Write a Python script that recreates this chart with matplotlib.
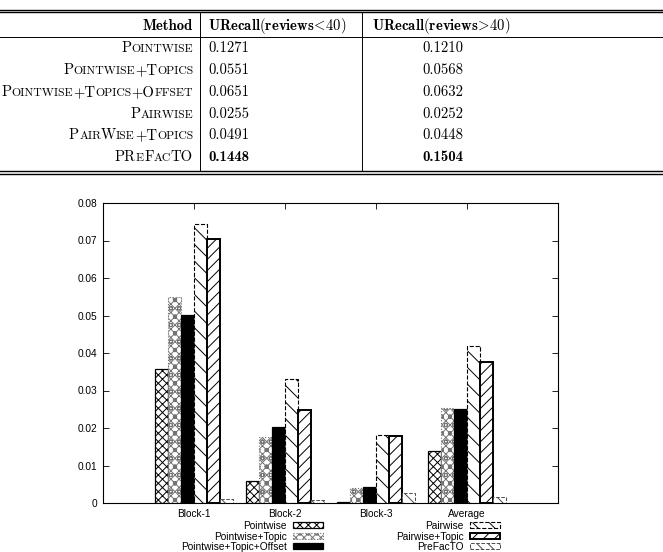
import numpy as np
import matplotlib
matplotlib.use('Agg')
import matplotlib.pyplot as plt

plt.rcParams['font.family'] = ['Liberation Sans', 'DejaVu Sans']
plt.rcParams['mathtext.fontset'] = 'cm'
plt.rcParams['hatch.linewidth'] = 0.7

# table data
methods = ['Pointwise', 'Pointwise+Topics', 'Pointwise+Topics+Offset',
           'Pairwise', 'PairWise+Topics', 'PReFacTO']
recall_lt40 = ['0.1271', '0.0551', '0.0651', '0.0255', '0.0491', '0.1448']
recall_gt40 = ['0.1210', '0.0568', '0.0632', '0.0252', '0.0448', '0.1504']
best_row = 5

# bar chart data
blocks = ['Block-1', 'Block-2', 'Block-3', 'Average']
series = ['Pointwise', 'Pointwise+Topic', 'Pointwise+Topic+Offset',
          'Pairwise', 'Pairwise+Topic', 'PreFacTO']
pointwise = [0.0357, 0.0059, 0.0003, 0.0139]
pointwise_topic = [0.0549, 0.0175, 0.0041, 0.0254]
pointwise_topic_offset = [0.0501, 0.0204, 0.0044, 0.0250]
pairwise = [0.0744, 0.0330, 0.0181, 0.0419]
pairwise_topic = [0.0703, 0.0248, 0.0179, 0.0377]
prefacto = [0.0010, 0.0008, 0.0026, 0.0015]
values = [pointwise, pointwise_topic, pointwise_topic_offset,
          pairwise, pairwise_topic, prefacto]

styles = [
    dict(facecolor='white', edgecolor='black', hatch='xxxx', linestyle='-', linewidth=0.9),
    dict(facecolor='white', edgecolor='0.45', hatch='xxxxoo', linestyle=':', linewidth=0.8),
    dict(facecolor='black', edgecolor='black', hatch=None, linestyle='-', linewidth=0.9),
    dict(facecolor='white', edgecolor='black', hatch='\\\\', linestyle='--', linewidth=0.8),
    dict(facecolor='white', edgecolor='black', hatch='///', linestyle='-', linewidth=1.4),
    dict(facecolor='white', edgecolor='0.3', hatch='\\\\\\', linestyle='--', linewidth=0.7),
]

W, H = 663, 552
fig = plt.figure(figsize=(W / 100, H / 100), dpi=100)

# ---- table drawn in pixel coordinates
tab = fig.add_axes([0, 0, 1, 1])
tab.set_xlim(0, W)
tab.set_ylim(H, 0)
tab.axis('off')

for y in (9.5, 12.0, 171.0, 174.0):
    tab.plot([0, W], [y, y], color='black', lw=1.0)
tab.plot([0, W], [37.3, 37.3], color='black', lw=0.7)
for x in (200, 362):
    tab.plot([x, x], [12, 171], color='black', lw=0.7)

fs = 10.6
renderer = fig.canvas.get_renderer()


def smallcaps(x_right, y, s):
    runs = []
    for ch in s:
        small = ch.islower()
        if runs and runs[-1][1] == small:
            runs[-1][0] += ch
        else:
            runs.append([ch, small])
    texts = []
    for txt, small in runs:
        t = tab.text(0, y, txt.upper(), family='cmr10',
                     fontsize=fs * (0.8 if small else 1.0),
                     ha='left', va='baseline')
        texts.append(t)
    widths = [t.get_window_extent(renderer).width for t in texts]
    x = x_right - sum(widths)
    for t, w in zip(texts, widths):
        t.set_x(x)
        x += w


tab.text(193, 30.5, 'Method', family='cmb10', fontsize=fs, ha='right', va='baseline')
tab.text(208, 30.5, r'$\mathbf{URecall(reviews}\!<\!\mathbf{40)}$', fontsize=fs,
         ha='left', va='baseline')
tab.text(441.5, 30.5, r'$\mathbf{URecall(reviews}\!>\!\mathbf{40)}$', fontsize=fs,
         ha='center', va='baseline')

for i, m in enumerate(methods):
    yb = 52.5 + i * 21.7
    smallcaps(193, yb, m)
    fam = 'cmb10' if i == best_row else 'cmr10'
    tab.text(208, yb, recall_lt40[i], family=fam, fontsize=fs,
             ha='left', va='baseline')
    tab.text(443, yb, recall_gt40[i], family=fam, fontsize=fs,
             ha='center', va='baseline')

# ---- bar chart
ax = fig.add_axes([103 / W, 1 - 503 / H, (558 - 103) / W, (503 - 203) / H])
x = np.arange(1, len(blocks) + 1)
width = 1 / 7
for i, (name, vals, st) in enumerate(zip(series, values, styles)):
    ax.bar(x + (i - 2.5) * width, vals, width, label=name, **st)

ax.set_xlim(0, 5)
ax.set_ylim(0, 0.08)
ax.set_xticks(x)
ax.set_xticklabels(blocks)
ax.set_yticks(np.arange(0, 0.081, 0.01))
ax.set_yticklabels(['0'] + ['%.2f' % v for v in np.arange(0.01, 0.081, 0.01)])
ax.tick_params(direction='in', length=4, width=0.6, labelsize=7.3, pad=4,
               top=True, right=True)
ax.tick_params(axis='x', pad=4.5)
for sp in ax.spines.values():
    sp.set_linewidth(0.8)

leg = ax.legend(loc='upper left', bbox_to_anchor=(181 / W, 1 - 521 / H),
                bbox_transform=fig.transFigure, ncol=2, frameon=False,
                fontsize=7.3, markerfirst=False, handlelength=3.0,
                handleheight=0.55, handletextpad=0.6, columnspacing=7.2,
                labelspacing=0.05, borderpad=0, borderaxespad=0)

fig.savefig('out.png', dpi=100)
